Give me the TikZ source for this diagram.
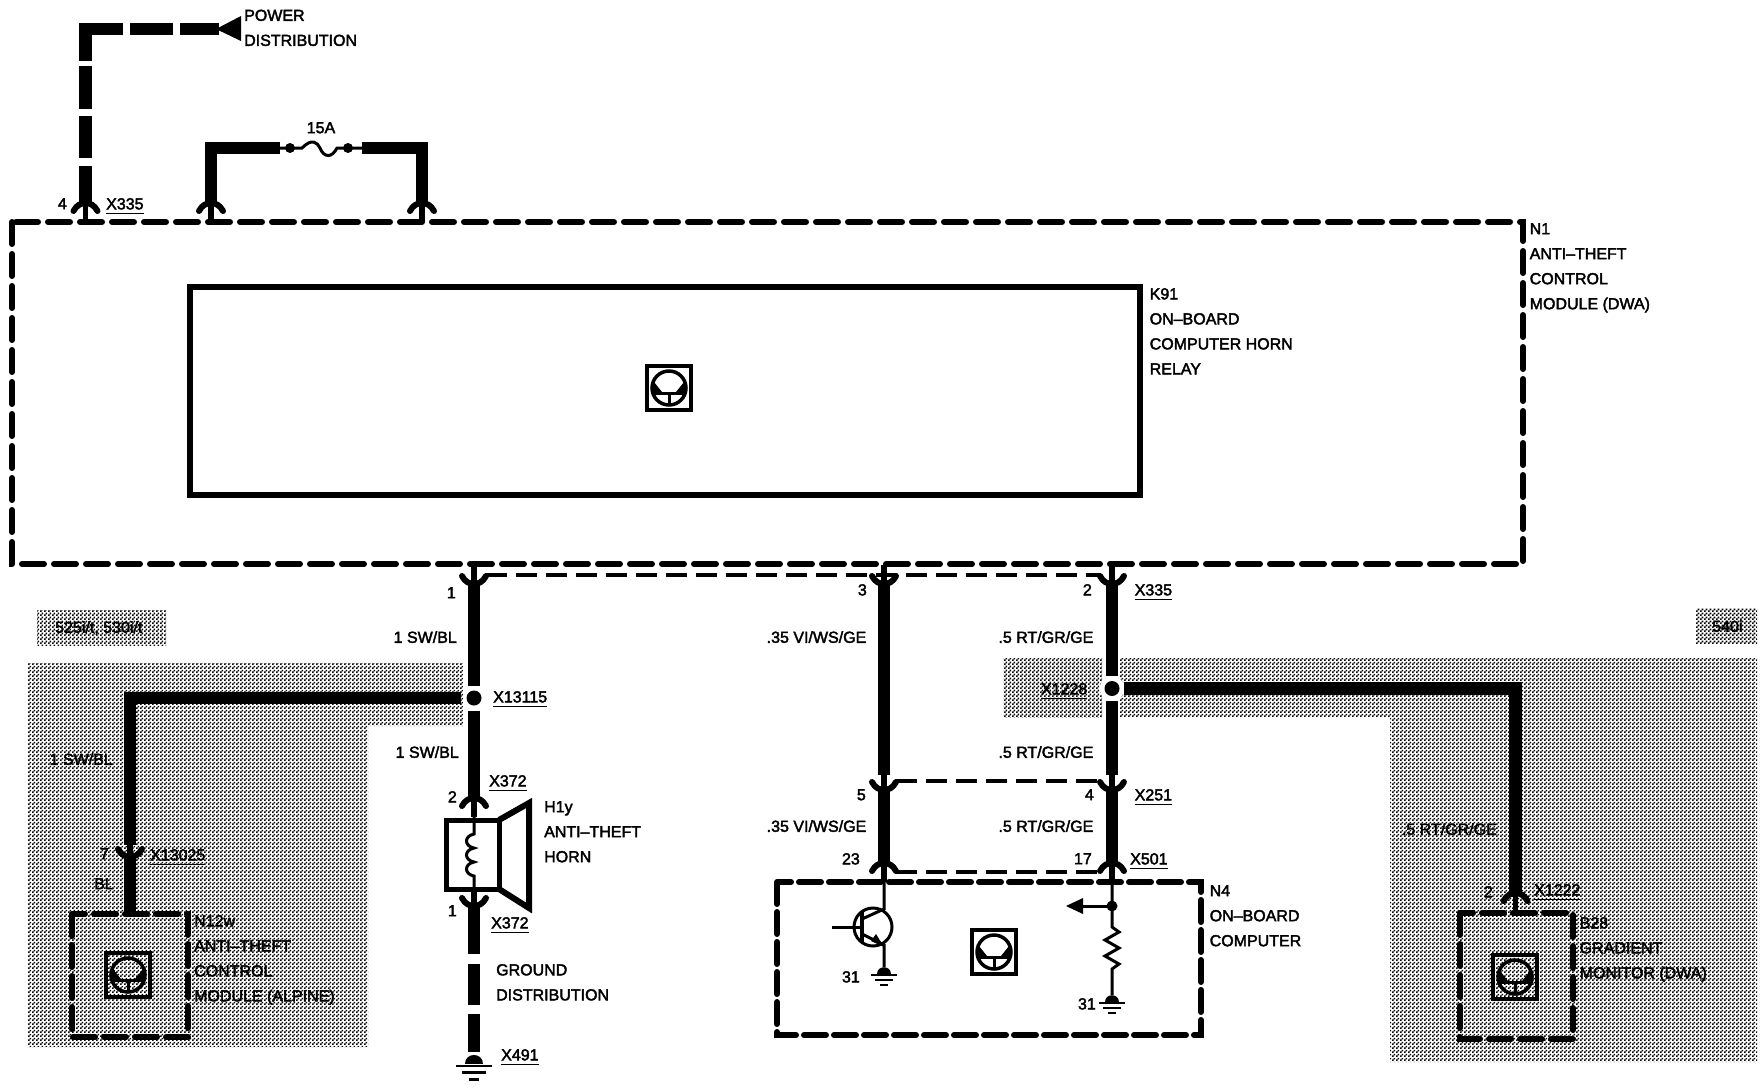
\documentclass[tikz,border=0pt]{standalone}
\usepackage{fontspec}
\setmainfont{Liberation Sans}[FakeBold=2.4]
\usetikzlibrary{patterns}
\newcommand{\lblfont}{\fontsize{16}{25}\selectfont}
\newcommand{\xconn}[1]{\setbox0=\hbox{#1}\hbox{\rlap{\rule[-5pt]{\wd0}{1.6pt}}\box0}}
\pgfdeclarepatternformonly{dither}{\pgfqpoint{0pt}{0pt}}{\pgfqpoint{4pt}{4pt}}{\pgfqpoint{4pt}{4pt}}{%
\pgfpathrectangle{\pgfqpoint{0pt}{0pt}}{\pgfqpoint{2pt}{2pt}}%
\pgfpathrectangle{\pgfqpoint{2pt}{2pt}}{\pgfqpoint{2pt}{2pt}}\pgfusepath{fill}}
\tikzset{
  wire/.style={line width=12.5pt},
  thinwire/.style={line width=3pt},
  module/.style={line width=6pt,line cap=round,dash pattern=on 22pt off 10pt},
  harness/.style={line width=4pt,dash pattern=on 21pt off 9pt},
  shade/.style={pattern=dither,pattern color=black},
  lbl/.style={font=\lblfont,inner sep=0pt,anchor=north west,align=left},
  lblr/.style={font=\lblfont,inner sep=0pt,anchor=north east},
  plug/.pic={
    \draw[line width=6pt,line cap=round] (-12,8) .. controls (-9,2) and (-4,0) .. (0,0) .. controls (4,0) and (9,2) .. (12,8);
    \draw[line width=5.5pt] (0,0) -- (0,19);
  },
  gnd/.pic={
    \fill (-7,7) .. controls (-7,-2) and (7,-2) .. (7,7) -- cycle;
    \draw[line width=2.5pt] (-13,8) -- (13,8);
    \draw[line width=2.5pt] (-9,13) -- (9,13);
    \draw[line width=2.5pt] (-4,18) -- (4,18);
  },
  wheel/.pic={
    \draw[line width=3.5pt] (-22,-22) rectangle (22,22);
    \draw[line width=3.5pt] (0,0) circle (17);
    \draw[line width=3pt] (-14,5) -- (14,5);
    \draw[line width=3pt] (0,5) -- (0,17);
    \fill (-15,-6) -- (-7,4) -- (-15,8) -- cycle;
    \fill (15,-6) -- (7,4) -- (15,8) -- cycle;
  },
}
\begin{document}
\begin{tikzpicture}[x=1pt,y=-1pt]
\useasboundingbox (0,0) rectangle (1764,1088);

\fill[shade] (37,610) rectangle (166,645);
\fill[shade] (1696,608) rectangle (1757,643);
\fill[shade] (28,663) -- (463,663) -- (463,726) -- (368,726) -- (368,1047) -- (28,1047) -- cycle;
\fill[shade] (1003,658) rectangle (1102,717);
\fill[shade] (1120,658) -- (1757,658) -- (1757,1062) -- (1390,1062) -- (1390,717) -- (1120,717) -- cycle;

\draw[module] (12,222) rectangle (1523,564);
\draw[line width=6pt] (190,287) rectangle (1140,495);
\draw[module,dash pattern=on 22pt off 9pt] (72,914) rectangle (188,1037);
\draw[module,dash pattern=on 22pt off 9pt] (1460,913) rectangle (1573,1039);
\draw[module,dash pattern=on 22pt off 8pt] (777,882) rectangle (1201,1035);

\pic at (669,388) {wheel};
\pic at (128,975) {wheel};
\pic at (994,952) {wheel};
\pic at (1515,977) {wheel};

% power feed and fuse
\coordinate (PD) at (219,29);
\coordinate (PDc) at (85.5,29);
\coordinate (P4) at (85.5,203);
\fill (241,16) -- (241,41) -- (216,29) -- cycle;
\draw[wire,dash pattern=on 39pt off 7pt on 43pt off 7pt on 69pt off 5pt on 43pt off 7pt on 42pt off 8pt on 40pt off 0pt] (PD) -- (PDc) -- (P4);
\pic at (P4) {plug};

\coordinate (FA) at (211,203);
\coordinate (FB) at (422,203);
\coordinate (FAc) at (211,148);
\coordinate (FBc) at (422,148);
\coordinate (F1) at (290,148);
\coordinate (F2) at (348,148);
\draw[wire] (FA) -- (FAc) -- (280,148);
\draw[wire] (FB) -- (FBc) -- (362,148);
\pic at (FA) {plug};
\pic at (FB) {plug};
\draw[thinwire] (280,148) -- (F1) -- (302,148) .. controls (312,138) and (317,142) .. (320,148) .. controls (324,158) and (332,158) .. (337,148) -- (F2) -- (362,148);
\fill (F1) circle (5);
\fill (F2) circle (5);

% thin harness lines
\coordinate (Ha) at (486,575);
\coordinate (Hb) at (1100,575);
\coordinate (Hc) at (896,781);
\coordinate (Hd) at (1100,781);
\coordinate (He) at (896,872);
\coordinate (Hf) at (1100,872);
\draw[harness] (Ha) -- (Hb);
\draw[harness] (Hc) -- (Hd);
\draw[harness] (He) -- (Hf);

% horn branch
\coordinate (W1a) at (474,584);
\coordinate (J1) at (474,698);
\coordinate (W1b) at (474,798);
\coordinate (W1c) at (474,906);
\coordinate (W1d) at (474,1052);
\coordinate (Jc) at (130,698);
\coordinate (W2a) at (130,857);
\coordinate (W2b) at (130,912);
\pic[rotate=180] at (W1a) {plug};
\draw[wire] (W1a) -- (474,686);
\draw[wire] (474,711) -- (W1b);
\pic at (W1b) {plug};
\draw[line width=5pt] (446,820) rectangle (499,889);
\draw[line width=6pt] (499,820) -- (529,803) -- (529,908) -- (499,889);
\draw[thinwire] (474,813) -- (474,834) .. controls (464,836) and (464,846) .. (474,848) .. controls (464,850) and (464,860) .. (474,862) .. controls (464,864) and (464,874) .. (474,876) -- (474,893);
\pic[rotate=180] at (W1c) {plug};
\draw[wire,dash pattern=on 48pt off 10pt on 41pt off 9pt on 38pt off 0pt] (W1c) -- (W1d);
\pic[scale=1.35] at (474,1055) {gnd};

\fill (J1) circle (7.5);
\draw[wire] (461,698) -- (Jc) -- (130,845);
\draw[wire] (W2a) -- (W2b);
\pic[rotate=180] at (W2a) {plug};

% on-board computer branches
\coordinate (W3a) at (884,584);
\coordinate (W3b) at (884,775);
\coordinate (W3c) at (884,790);
\coordinate (W3d) at (884,863);
\coordinate (W4a) at (1112,584);
\coordinate (J2) at (1112,688.5);
\coordinate (W4b) at (1112,775);
\coordinate (W4c) at (1112,790);
\coordinate (W4d) at (1112,863);
\coordinate (W5a) at (1515.5,688.5);
\coordinate (W5b) at (1515.5,893);
\pic[rotate=180] at (W3a) {plug};
\pic[rotate=180] at (W4a) {plug};
\draw[wire] (W3a) -- (W3b);
\draw[wire] (W4a) -- (1112,676);
\draw[wire] (1112,701) -- (W4b);
\pic[rotate=180] at (W3c) {plug};
\pic[rotate=180] at (W4c) {plug};
\draw[wire] (W3c) -- (W3d);
\draw[wire] (W4c) -- (W4d);
\pic at (W3d) {plug};
\pic at (W4d) {plug};
\fill[white] (J2) circle (12.5);
\fill (J2) circle (7.5);
\draw[wire] (1124,688.5) -- (W5a) -- (W5b);
\pic at (W5b) {plug};

% transistor
\coordinate (Tc) at (873,927);
\coordinate (Tb) at (832,927);
\coordinate (Tbar) at (862,927);
\draw[thinwire] (Tc) circle (19);
\draw[thinwire] (884,878) -- (884,909) -- (862,919);
\draw[line width=4pt] (862,912) -- (862,942);
\draw[thinwire] (Tb) -- (Tbar);
\draw[thinwire] (862,934) -- (884,945) -- (884,967);
\fill (884,947) -- (871,941) -- (876,934) -- cycle;
\pic at (884,967) {gnd};

% resistor branch
\coordinate (Rt) at (1112,906);
\draw[thinwire] (1112,878) -- (Rt) -- (1112,927) -- (1119,932) -- (1105,940) -- (1119,948) -- (1105,956) -- (1119,964) -- (1112,969) -- (1112,995);
\draw[thinwire] (Rt) -- (1082,906);
\fill (1066,906) -- (1083,898) -- (1083,914) -- cycle;
\fill (Rt) circle (5.5);
\pic at (1112,995) {gnd};

% labels
\node[lbl] (tPD) at (244,9.5) {POWER\\DISTRIBUTION};
\node[lbl,anchor=north] (t15A) at (321,122) {15A};
\node[lblr] (t4a) at (67,198) {4};
\node[lbl] (tX335a) at (106,198) {\xconn{X335}};
\node[lbl] (tK91) at (1149.5,288) {K91\\ON–BOARD\\COMPUTER HORN\\RELAY};
\node[lbl] (tN1) at (1529.5,223) {N1\\ANTI–THEFT\\CONTROL\\MODULE (DWA)};

\node[lbl] (tmod) at (55,621) {525i/t, 530i/t};
\node[lbl] (t540) at (1712,620) {540i};

\node[lblr] (t1a) at (456,587) {1};
\node[lblr] (tsw1) at (457,631) {1 SW/BL};
\node[lbl] (tX13115) at (493,691) {\xconn{X13115}};
\node[lblr] (tsw2) at (459,746) {1 SW/BL};
\node[lbl] (tX372a) at (489,775) {\xconn{X372}};
\node[lblr] (t2a) at (457,791) {2};
\node[lbl] (tH1y) at (544,801) {H1y\\ANTI–THEFT\\HORN};
\node[lblr] (t1b) at (457,905) {1};
\node[lbl] (tX372b) at (491,917) {\xconn{X372}};
\node[lbl] (tgnd) at (496,964) {GROUND\\DISTRIBUTION};
\node[lbl] (tX491) at (501,1049) {\xconn{X491}};

\node[lblr] (tsw3) at (113,753) {1 SW/BL};
\node[lblr] (t7) at (109,848) {7};
\node[lblr] (tBL) at (114,878) {BL};
\node[lbl] (tX13025) at (150,849) {\xconn{X13025}};
\node[lbl] (tN12) at (194,915) {N12w\\ANTI–THEFT\\CONTROL\\MODULE (ALPINE)};

\node[lblr] (t3) at (867,584) {3};
\node[lblr] (t2b) at (1092,584) {2};
\node[lbl] (tX335b) at (1134.5,584) {\xconn{X335}};
\node[lblr] (tvi1) at (866.5,631) {.35 VI/WS/GE};
\node[lblr] (trt1) at (1093.5,631) {.5 RT/GR/GE};
\node[lblr] (tX1228) at (1087.5,683) {\xconn{X1228}};
\node[lblr] (trt2) at (1093.5,746) {.5 RT/GR/GE};
\node[lblr] (t5) at (866,789) {5};
\node[lblr] (t4b) at (1094,789) {4};
\node[lbl] (tX251) at (1134.5,789) {\xconn{X251}};
\node[lblr] (tvi2) at (866.5,820) {.35 VI/WS/GE};
\node[lblr] (trt3) at (1093.5,820) {.5 RT/GR/GE};
\node[lblr] (t23) at (860,853) {23};
\node[lblr] (t17) at (1092,853) {17};
\node[lbl] (tX501) at (1130,853) {\xconn{X501}};
\node[lblr] (t31a) at (860,971) {31};
\node[lblr] (t31b) at (1096,998) {31};
\node[lbl] (tN4) at (1209.5,885) {N4\\ON–BOARD\\COMPUTER};

\node[lblr] (trt4) at (1497,823) {.5 RT/GR/GE};
\node[lblr] (t2c) at (1493,886) {2};
\node[lbl] (tX1222) at (1534,884) {\xconn{X1222}};
\node[lbl] (tB28) at (1579.5,917) {B28\\GRADIENT\\MONITOR (DWA)};
\end{tikzpicture}
\end{document}
